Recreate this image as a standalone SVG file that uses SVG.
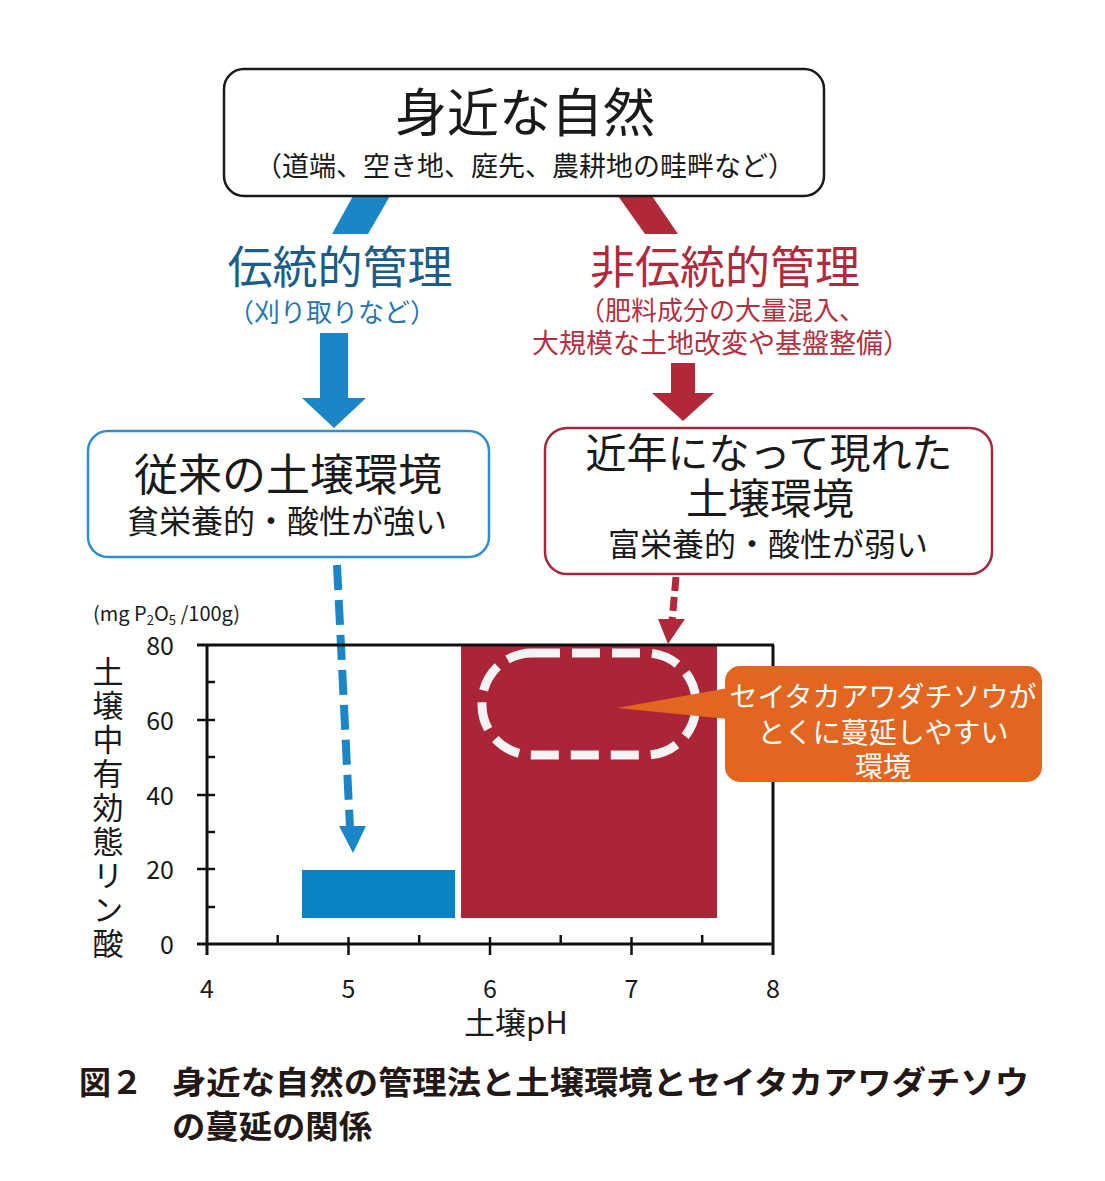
<svg xmlns="http://www.w3.org/2000/svg" width="1105" height="1181" viewBox="0 0 1105 1181">
<style>
text{font-family:"Noto Sans CJK JP","Noto Sans",sans-serif;}
.blk{fill:#1a1a1a;}
.box{fill:#fff;stroke-width:2.5;}
.ax{stroke:#111;stroke-width:3;fill:none;}
.tk{stroke:#111;stroke-width:2.5;}
.num{font-size:25px;fill:#1a1a1a;}
.cap{font-size:32px;font-weight:700;fill:#231815;}
</style>
<rect width="1105" height="1181" fill="#fff"/>

<g id="connectors">
  <polygon points="353,196 390,196 368,234 332,234" fill="#1a86c8"/>
  <polygon points="618,196 652,196 678,234 645,234" fill="#b0283a"/>
  <polygon points="320,333 348,333 348,398 366,398 334,428 302,398 320,398" fill="#1a86c8"/>
  <polygon points="671,363 695,363 695,393 714,393 683,421 652,393 671,393" fill="#b0283a"/>
  <line x1="337" y1="565" x2="350" y2="828" stroke="#1a86c8" stroke-width="8" stroke-dasharray="25 10"/>
  <polygon points="339,826 366,826 353,853" fill="#1a86c8"/>
  <line x1="676" y1="577" x2="672" y2="622" stroke="#b0283a" stroke-width="7" stroke-dasharray="14 6"/>
  <polygon points="658,619 685,619 668,644" fill="#b0283a"/>
</g>

<g id="node-top">
  <rect x="224" y="69" width="600" height="127" rx="20" class="box" stroke="#1a1a1a"/>
  <text x="525" y="132" font-size="52" text-anchor="middle" class="blk">身近な自然</text>
  <text x="525" y="176" font-size="27" text-anchor="middle" class="blk">（道端、空き地、庭先、農耕地の畦畔など）</text>
</g>

<g id="label-traditional">
  <text x="340" y="284" font-size="45" text-anchor="middle" fill="#1b5c88">伝統的管理</text>
  <text x="332" y="322" font-size="26" text-anchor="middle" fill="#2677b0">（刈り取りなど）</text>
</g>

<g id="label-nontraditional">
  <text x="725" y="284" font-size="45" text-anchor="middle" fill="#b02a3b">非伝統的管理</text>
  <text x="722" y="320" font-size="26" text-anchor="middle" fill="#b2303f">（肥料成分の大量混入、</text>
  <text x="721" y="353" font-size="27" text-anchor="middle" fill="#b2303f">大規模な土地改変や基盤整備）</text>
</g>

<g id="node-left">
  <rect x="88" y="431" width="401" height="126" rx="20" class="box" stroke="#2b8fd0"/>
  <text x="288" y="491" font-size="44" text-anchor="middle" class="blk">従来の土壌環境</text>
  <text x="287" y="533" font-size="32" text-anchor="middle" class="blk">貧栄養的・酸性が強い</text>
</g>

<g id="node-right">
  <rect x="545" y="428" width="447" height="146" rx="22" class="box" stroke="#a3283d"/>
  <text x="769" y="468" font-size="41" text-anchor="middle" class="blk">近年になって現れた</text>
  <text x="770" y="514" font-size="42" text-anchor="middle" class="blk">土壌環境</text>
  <text x="768" y="556" font-size="32" text-anchor="middle" class="blk">富栄養的・酸性が弱い</text>
</g>

<g id="chart">
  <rect x="302" y="870" width="153" height="48" fill="#0a82c4"/>
  <rect x="461" y="646" width="256" height="272" fill="#ab2539"/>
  <rect x="482" y="653" width="214" height="102" rx="50" fill="none" stroke="#f4f4f4" stroke-width="9" stroke-dasharray="28 12"/>
  <line x1="197" y1="645" x2="774" y2="645" class="ax"/>
  <line x1="207" y1="645" x2="207" y2="955" class="ax"/>
  <line x1="197" y1="944" x2="774" y2="944" class="ax"/>
  <line x1="773" y1="645" x2="773" y2="955" class="ax" stroke-width="2.5"/>
  <g class="tk">
    <line x1="197" y1="720" x2="215" y2="720"/>
    <line x1="197" y1="795" x2="215" y2="795"/>
    <line x1="197" y1="869" x2="215" y2="869"/>
    <line x1="207" y1="682" x2="215" y2="682"/>
    <line x1="207" y1="757" x2="215" y2="757"/>
    <line x1="207" y1="832" x2="215" y2="832"/>
    <line x1="207" y1="907" x2="215" y2="907"/>
    <line x1="348.5" y1="937" x2="348.5" y2="955"/>
    <line x1="490" y1="937" x2="490" y2="955"/>
    <line x1="631.5" y1="937" x2="631.5" y2="955"/>
    <line x1="277.7" y1="935" x2="277.7" y2="944"/>
    <line x1="419.2" y1="935" x2="419.2" y2="944"/>
    <line x1="560.7" y1="935" x2="560.7" y2="944"/>
    <line x1="702.2" y1="935" x2="702.2" y2="944"/>
  </g>
  <g class="num" text-anchor="end">
    <text x="174" y="655">80</text>
    <text x="174" y="730">60</text>
    <text x="174" y="805">40</text>
    <text x="174" y="879">20</text>
    <text x="174" y="954">0</text>
  </g>
  <g class="num" text-anchor="middle">
    <text x="207" y="998">4</text>
    <text x="348.5" y="998">5</text>
    <text x="490" y="998">6</text>
    <text x="631.5" y="998">7</text>
    <text x="773" y="998">8</text>
  </g>
  <text x="516" y="1034" font-size="31" text-anchor="middle" class="blk">土壌pH</text>
  <text x="93" y="621" font-size="20" class="blk">(mg P<tspan font-size="13" dy="4">2</tspan><tspan dy="-4">O</tspan><tspan font-size="13" dy="4">5</tspan><tspan dy="-4"> /100g)</tspan></text>
  <text x="108" y="656" font-size="31" writing-mode="tb" letter-spacing="3" class="blk">土壌中有効態リン酸</text>
</g>

<g id="node-callout">
  <polygon points="617,708 728,688 728,719" fill="#e2661f"/>
  <rect x="725" y="666" width="317" height="116" rx="15" fill="#e2661f"/>
  <text x="883" y="707" font-size="28" text-anchor="middle" fill="#fff">セイタカアワダチソウが</text>
  <text x="883" y="743" font-size="28" text-anchor="middle" fill="#fff">とくに蔓延しやすい</text>
  <text x="883" y="777" font-size="28" text-anchor="middle" fill="#fff">環境</text>
</g>

<g id="caption">
  <text x="79" y="1094" class="cap" textLength="64" lengthAdjust="spacingAndGlyphs">図２</text>
  <text x="172" y="1094" class="cap" textLength="857" lengthAdjust="spacingAndGlyphs">身近な自然の管理法と土壌環境とセイタカアワダチソウ</text>
  <text x="172" y="1138" class="cap" textLength="200" lengthAdjust="spacingAndGlyphs">の蔓延の関係</text>
</g>
</svg>
